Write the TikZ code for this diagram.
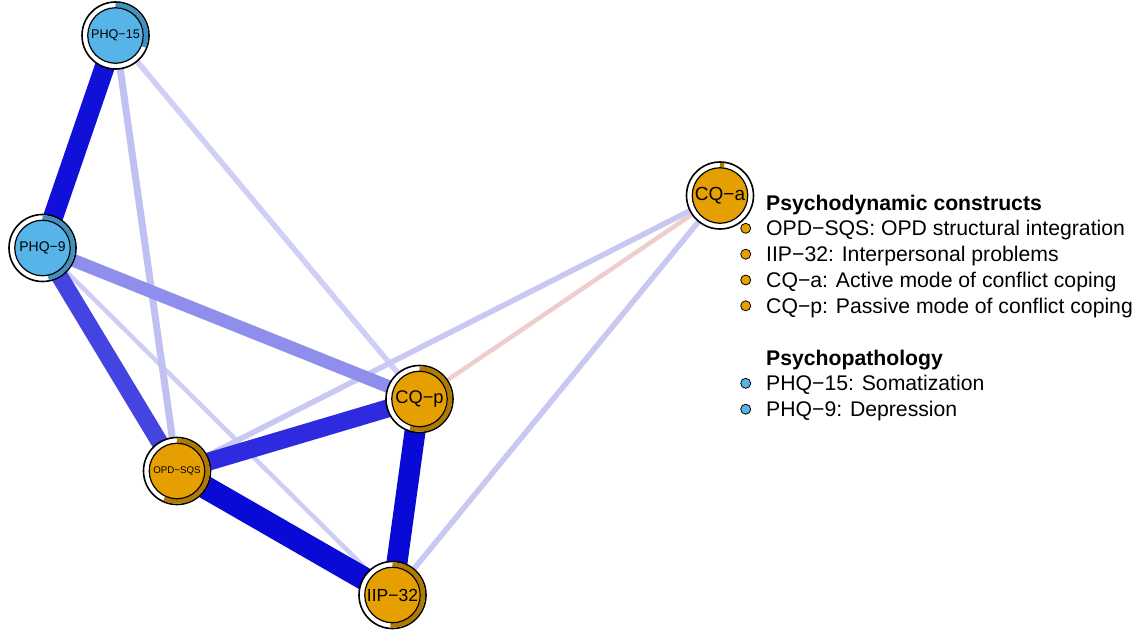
\documentclass[tikz,border=0pt]{standalone}
\usepackage{fontspec}
\setmainfont{Liberation Sans}
\pgfdeclarelayer{edges}
\pgfsetlayers{edges,main}
\definecolor{nblue}{HTML}{56B4E9}
\definecolor{nbluepie}{HTML}{4090C0}
\definecolor{norange}{HTML}{E69F00}
\definecolor{norangepie}{HTML}{B07A00}
\definecolor{eA}{HTML}{0A0AD6}
\definecolor{eB}{HTML}{1010D8}
\definecolor{eC}{HTML}{2E2ADF}
\definecolor{eD}{HTML}{4444E0}
\definecolor{eE}{HTML}{8E8EEC}
\definecolor{eF}{HTML}{C0C0F2}
\definecolor{eG}{HTML}{D0D0F6}
\definecolor{eH}{HTML}{CDCDF5}
\definecolor{eI}{HTML}{C8C8F3}
\definecolor{eR}{HTML}{F0CDCD}
\tikzset{
  outerc/.style={circle, draw=black, line width=1.6pt, fill=white, minimum size=67pt, inner sep=0pt},
  innerc/.style={circle, draw=black, line width=1.2pt, minimum size=55.5pt, inner sep=0pt},
  piearc/.style={line width=4.5pt},
  edgeline/.style={line cap=butt},
  bullet/.style={circle, draw=black, line width=0.8pt, minimum size=10pt, inner sep=0pt},
  legtext/.style={anchor=base west, inner sep=0pt, font=\fontsize{21.2}{25}\selectfont},
  legtitle/.style={anchor=base west, inner sep=0pt, font=\fontsize{21.2}{25}\selectfont\bfseries},
}
\begin{document}
\begin{tikzpicture}[x=1pt, y=-1pt]
\useasboundingbox (0,0) rectangle (1137,629);

% ---------- nodes ----------
\node[outerc] (phq15) at (115.5,35.5) {};
\draw[piearc, draw=nbluepie] (phq15.center) ++(90:30.5pt) arc[start angle=90, end angle=-22, radius=30.5pt];
\node[innerc, fill=nblue, font=\fontsize{12.6}{14}\selectfont] (phq15l) at (phq15.center) {PHQ−15};

\node[outerc] (phq9) at (42.5,248) {};
\draw[piearc, draw=nbluepie] (phq9.center) ++(90:30.5pt) arc[start angle=90, end angle=-79, radius=30.5pt];
\node[innerc, fill=nblue, font=\fontsize{14}{16}\selectfont] (phq9l) at (phq9.center) {PHQ−9};

\node[outerc] (opd) at (177,471) {};
\draw[piearc, draw=norangepie] (opd.center) ++(90:30.5pt) arc[start angle=90, end angle=-115, radius=30.5pt];
\node[innerc, fill=norange, font=\fontsize{9.7}{11}\selectfont] (opdl) at (opd.center) {OPD−SQS};

\node[outerc] (cqp) at (419.5,399) {};
\draw[piearc, draw=norangepie] (cqp.center) ++(90:30.5pt) arc[start angle=90, end angle=-108, radius=30.5pt];
\node[innerc, fill=norange, font=\fontsize{18.3}{20}\selectfont] (cqpl) at (cqp.center) {CQ−p};

\node[outerc] (iip) at (392.5,595) {};
\draw[piearc, draw=norangepie] (iip.center) ++(90:30.5pt) arc[start angle=90, end angle=-94, radius=30.5pt];
\node[innerc, fill=norange, font=\fontsize{17.5}{19}\selectfont] (iipl) at (iip.center) {IIP−32};

\node[outerc] (cqa) at (720,195.5) {};
\draw[piearc, draw=norangepie] (cqa.center) ++(90:30.5pt) arc[start angle=90, end angle=82, radius=30.5pt];
\node[innerc, fill=norange, font=\fontsize{19}{21}\selectfont] (cqal) at (cqa.center) {CQ−a};

% ---------- edges ----------
\begin{pgfonlayer}{edges}
\draw[edgeline, draw=eR, line width=4.5pt] (cqp.center) -- (cqa.center);
\draw[edgeline, draw=eH, line width=4.5pt] (phq9.center) -- (iip.center);
\draw[edgeline, draw=eG, line width=5.5pt] (phq15.center) -- (cqp.center);
\draw[edgeline, draw=eI, line width=5.5pt] (opd.center) -- (cqa.center);
\draw[edgeline, draw=eI, line width=5.5pt] (iip.center) -- (cqa.center);
\draw[edgeline, draw=eF, line width=7pt] (phq15.center) -- (opd.center);
\draw[edgeline, draw=eE, line width=13pt] (phq9.center) -- (cqp.center);
\draw[edgeline, draw=eD, line width=17pt] (phq9.center) -- (opd.center);
\draw[edgeline, draw=eC, line width=18pt] (opd.center) -- (cqp.center);
\draw[edgeline, draw=eB, line width=20pt] (phq15.center) -- (phq9.center);
\draw[edgeline, draw=eA, line width=21pt] (cqp.center) -- (iip.center);
\draw[edgeline, draw=eA, line width=23pt] (opd.center) -- (iip.center);
\end{pgfonlayer}

% ---------- legend ----------
\node[legtitle] (legA) at (766,210) {Psychodynamic constructs};
\node[bullet, fill=norange] (b1) at (745.7,228.3) {};
\node[legtext] (l1) at (766,235.8) {OPD−SQS: OPD structural integration};
\node[bullet, fill=norange] (b2) at (745.7,254.2) {};
\node[legtext] (l2) at (766,261.7) {IIP−32: Interpersonal problems};
\node[bullet, fill=norange] (b3) at (745.7,280) {};
\node[legtext] (l3) at (766,287.5) {CQ−a: Active mode of conflict coping};
\node[bullet, fill=norange] (b4) at (745.7,305.8) {};
\node[legtext] (l4) at (766,313.3) {CQ−p: Passive mode of conflict coping};
\node[legtitle] (legB) at (766,365) {Psychopathology};
\node[bullet, fill=nblue] (b5) at (745.7,383.3) {};
\node[legtext] (l5) at (766,390.8) {PHQ−15: Somatization};
\node[bullet, fill=nblue] (b6) at (745.7,409.2) {};
\node[legtext] (l6) at (766,416.7) {PHQ−9: Depression};
\end{tikzpicture}
\end{document}
